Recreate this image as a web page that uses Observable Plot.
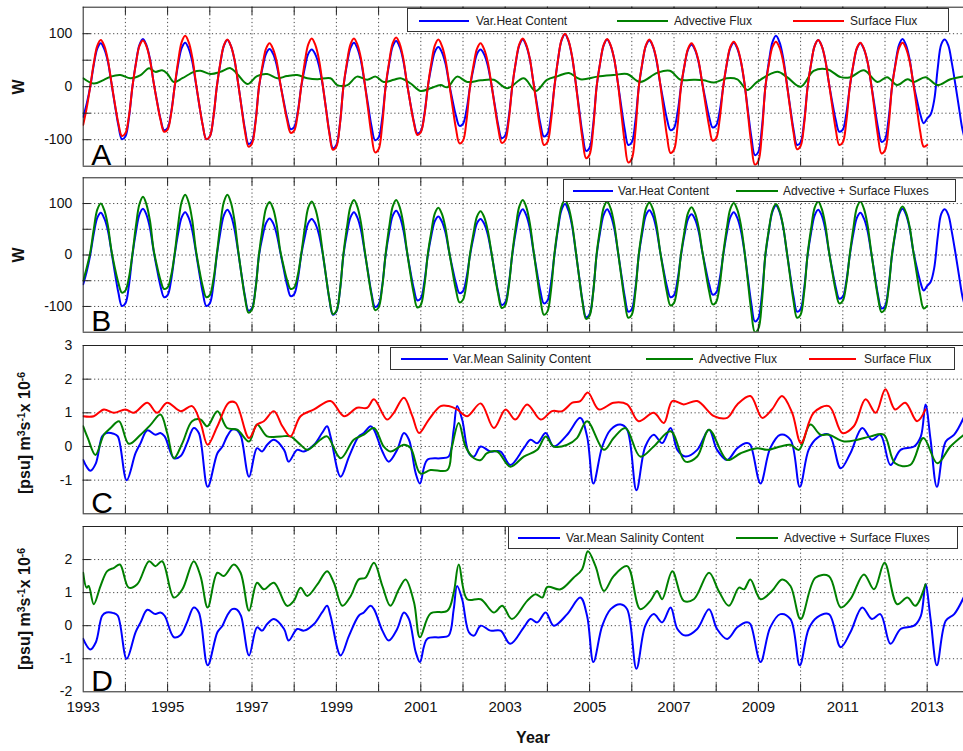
<!DOCTYPE html>
<html><head><meta charset="utf-8">
<script src="https://cdn.jsdelivr.net/npm/d3@7"></script>
<script src="https://cdn.jsdelivr.net/npm/@observablehq/plot@0.6"></script>
<style>
body{margin:0;background:#fff;overflow:hidden;font-family:"Liberation Sans",Arial,sans-serif;}
#root{position:relative;width:963px;height:751px;overflow:hidden;background:#fff;}
.panel{position:absolute;left:0;}
.legend{position:absolute;border:1px solid #333;background:#fff;box-sizing:border-box;font-size:12px;color:#222;}
.legend .sw{position:absolute;height:2px;}
.legend .lb{position:absolute;white-space:nowrap;line-height:1;transform:translateY(-50%);}
.ytitle{position:absolute;font-weight:bold;white-space:nowrap;line-height:1;color:#111;transform:translate(-50%,-50%) rotate(-90deg);}
.ytitle span{font-size:0.65em;vertical-align:0.55em;}
.xtitle{position:absolute;font-weight:bold;font-size:16px;color:#111;transform:translate(-50%,-50%);}
</style></head><body><div id="root"></div>
<script>
// ---------- DATA ----------
// Panel A/B: monthly values from Jan 1993 (W)
const heatContent = [
-57,-32,0,41,72,82,71,48,8,-34,-73,-99,
-94,-59,0,45,79,90,78,52,9,-28,-61,-82,
-78,-49,0,42,73,83,72,48,8,-34,-73,-99,
-94,-59,0,44,77,88,77,51,9,-37,-80,-108,
-103,-65,0,36,62,71,62,41,7,-27,-59,-80,
-76,-48,0,35,62,70,61,41,7,-39,-86,-116,
-110,-70,0,42,73,83,72,48,8,-34,-75,-101,
-96,-61,0,43,76,86,75,50,9,-30,-65,-88,
-84,-53,0,38,66,75,65,44,8,-25,-55,-74,
-70,-44,0,35,62,70,61,41,7,-33,-72,-97,
-92,-58,0,45,78,89,77,52,9,-32,-70,-94,
-89,-56,0,50,87,99,86,57,10,-41,-90,-121,
-115,-73,0,45,78,89,77,52,9,-37,-81,-110,
-105,-66,0,44,77,87,76,50,9,-28,-61,-82,
-78,-49,0,40,70,79,69,46,8,-26,-57,-77,
-73,-46,0,42,73,83,72,48,8,-44,-95,-129,
-123,-77,0,48,84,96,84,56,10,-37,-81,-110,
-105,-66,0,44,77,88,77,51,9,-29,-63,-85,
-81,-51,0,41,72,82,71,48,8,-35,-77,-104,
-99,-62,0,45,79,90,78,52,9,-23,-51,-69,
-60,-52,-25,35,80,89,78,45,5,-38,-80,-105];
const surfaceFluxA = [
-72,-40,0,44,77,88,77,51,9,-32,-69,-93,
-88,-56,0,44,77,87,76,50,9,-29,-63,-85,
-81,-51,0,48,84,96,84,56,10,-34,-73,-99,
-94,-59,0,45,78,89,77,52,9,-38,-84,-113,
-107,-68,0,41,72,82,71,48,8,-30,-64,-87,
-83,-52,0,46,80,91,79,53,9,-40,-88,-119,
-113,-71,0,46,80,91,79,53,9,-42,-92,-124,
-118,-74,0,47,82,93,81,54,9,-31,-67,-91,
-86,-55,0,45,78,89,77,52,9,-36,-79,-107,
-102,-64,0,41,72,82,71,48,8,-36,-78,-106,
-101,-64,0,46,80,91,79,53,9,-37,-81,-110,
-105,-66,0,50,88,100,87,58,10,-46,-100,-135,
-128,-81,0,45,79,90,78,52,9,-49,-106,-143,
-136,-86,0,45,78,89,77,52,9,-43,-93,-125,
-119,-75,0,41,72,82,71,48,8,-35,-75,-102,
-97,-61,0,43,75,85,74,49,9,-50,-109,-147,
-140,-88,0,43,75,85,74,49,9,-40,-87,-118,
-112,-71,0,44,77,88,77,51,9,-37,-81,-110,
-105,-66,0,42,73,83,72,48,8,-43,-93,-126,
-120,-76,0,42,73,83,72,48,8,-38,-84,-113,
-110];
const advSurfFluxB = [
-50,-25,5,50,88,100,87,58,10,-25,-54,-73,
-69,-44,2,57,99,113,98,66,11,-22,-49,-66,
-63,-40,2,59,103,117,102,68,12,-28,-61,-82,
-78,-49,2,59,103,117,102,68,12,-38,-83,-112,
-106,-67,2,52,91,103,90,60,10,-22,-49,-66,
-63,-40,2,52,92,104,90,60,10,-39,-85,-115,
-109,-69,2,54,94,107,93,62,11,-36,-79,-107,
-102,-64,2,54,94,107,93,62,11,-35,-75,-102,
-97,-61,2,46,81,92,80,53,9,-31,-68,-92,
-87,-55,2,43,75,85,74,49,9,-35,-76,-103,
-98,-62,2,54,94,107,93,62,11,-39,-86,-116,
-110,-70,2,54,94,107,93,62,11,-42,-92,-124,
-118,-74,2,52,92,104,90,60,10,-41,-90,-122,
-116,-73,2,51,90,102,89,59,10,-33,-73,-98,
-93,-59,2,47,82,93,81,54,9,-33,-71,-96,
-91,-58,2,51,89,101,88,59,10,-51,-111,-150,
-143,-90,2,50,87,99,86,57,10,-41,-90,-122,
-116,-73,2,52,92,104,90,60,10,-32,-70,-94,
-89,-56,2,52,92,104,90,60,10,-38,-82,-111,
-105,-67,2,47,83,94,82,55,9,-35,-77,-104,
-99];
// [year, W]
const advectiveFluxA = [[1993.0,16],[1993.25,6],[1993.49,13],[1993.65,19],[1993.88,22],[1994.12,16],[1994.36,22],[1994.56,35],[1994.71,28],[1994.87,31],[1994.99,25],[1995.15,9],[1995.35,16],[1995.62,28],[1995.78,30],[1996.02,24],[1996.25,28],[1996.49,35],[1996.65,24],[1996.89,5],[1997.12,20],[1997.36,24],[1997.6,16],[1997.83,20],[1998.07,22],[1998.31,16],[1998.55,14],[1998.86,16],[1999.02,3],[1999.26,3],[1999.49,19],[1999.73,13],[1999.93,19],[2000.12,9],[2000.36,13],[2000.52,16],[2000.76,6],[2000.99,-8],[2001.23,-3],[2001.47,3],[2001.63,-1],[2001.86,19],[2002.1,9],[2002.42,12],[2002.73,13],[2003.05,-3],[2003.44,16],[2003.72,-8],[2003.99,13],[2004.25,20],[2004.51,26],[2004.78,14],[2005.18,19],[2005.57,22],[2005.89,24],[2006.2,9],[2006.6,26],[2006.9,30],[2007.16,13],[2007.47,13],[2007.7,12],[2007.95,8],[2008.25,16],[2008.5,14],[2008.74,-6],[2008.97,9],[2009.45,28],[2009.68,18],[2010.0,0],[2010.31,30],[2010.63,33],[2010.95,18],[2011.18,18],[2011.5,31],[2011.82,9],[2012.05,18],[2012.29,3],[2012.53,14],[2012.69,9],[2012.96,18],[2013.24,3],[2013.55,14],[2013.9,20]];
// Panel C/D: [year, psu m3 s-1 x 1e-6]
const salinityContent = [[1993.0,-0.4],[1993.08,-0.6],[1993.17,-0.72],[1993.3,-0.5],[1993.45,0.3],[1993.55,0.4],[1993.72,0.38],[1993.82,0.3],[1994.03,-1.0],[1994.24,-0.2],[1994.36,0.1],[1994.52,0.48],[1994.71,0.35],[1994.83,0.4],[1994.93,0.3],[1995.15,-0.35],[1995.31,-0.28],[1995.46,0.1],[1995.62,0.55],[1995.74,0.4],[1995.95,-1.2],[1996.18,-0.2],[1996.3,0.0],[1996.41,0.3],[1996.53,0.5],[1996.65,0.48],[1996.74,0.3],[1996.93,-0.9],[1997.12,-0.05],[1997.24,-0.15],[1997.36,0.05],[1997.52,0.2],[1997.76,-0.1],[1997.87,-0.45],[1998.07,-0.1],[1998.23,-0.15],[1998.47,0.05],[1998.66,0.4],[1998.78,0.6],[1998.86,0.3],[1999.1,-0.9],[1999.3,-0.3],[1999.53,0.3],[1999.65,0.4],[1999.81,0.6],[1999.89,0.5],[2000.09,-0.15],[2000.24,-0.45],[2000.44,-0.1],[2000.6,0.4],[2000.72,0.2],[2000.88,-0.8],[2000.98,-1.1],[2001.15,-0.4],[2001.47,-0.35],[2001.66,-0.3],[2001.78,0.5],[2001.86,1.2],[2001.98,0.8],[2002.14,-0.2],[2002.26,-0.3],[2002.42,0.0],[2002.65,-0.15],[2002.89,-0.15],[2003.12,-0.55],[2003.44,-0.05],[2003.6,0.2],[2003.76,0.1],[2003.96,0.4],[2004.15,0.0],[2004.47,0.35],[2004.78,0.85],[2004.94,0.3],[2005.09,-1.1],[2005.3,0.0],[2005.5,0.5],[2005.73,0.65],[2005.89,0.5],[2006.11,-1.3],[2006.32,0.0],[2006.52,0.35],[2006.72,0.1],[2006.92,0.55],[2007.08,-0.1],[2007.27,-0.3],[2007.55,-0.1],[2007.83,0.5],[2008.02,-0.1],[2008.26,-0.4],[2008.5,-0.05],[2008.73,0.1],[2008.81,0.05],[2009.05,-1.1],[2009.28,-0.05],[2009.52,0.35],[2009.76,0.2],[2009.98,-1.2],[2010.19,-0.1],[2010.39,0.25],[2010.67,0.35],[2010.95,-0.65],[2011.18,-0.2],[2011.46,0.55],[2011.69,0.2],[2011.89,0.35],[2012.13,-0.55],[2012.37,-0.1],[2012.69,0.0],[2012.85,0.3],[2012.96,1.25],[2013.08,0.2],[2013.23,-1.2],[2013.44,0.15],[2013.64,0.35],[2013.9,0.95]];
const advectiveFluxC = [[1993.0,0.6],[1993.11,0.25],[1993.29,-0.25],[1993.49,0.35],[1993.65,0.55],[1993.85,0.75],[1994.08,0.08],[1994.36,0.35],[1994.6,0.65],[1994.83,0.95],[1994.99,0.4],[1995.15,-0.35],[1995.35,0.1],[1995.58,0.75],[1995.78,0.8],[1995.94,0.6],[1996.18,1.05],[1996.41,0.55],[1996.65,0.5],[1996.93,0.15],[1997.12,0.65],[1997.36,0.3],[1997.68,0.3],[1997.91,0.3],[1998.15,0.05],[1998.31,-0.1],[1998.62,0.2],[1998.78,0.3],[1999.1,-0.35],[1999.41,0.2],[1999.65,0.35],[1999.89,0.55],[2000.12,0.0],[2000.28,-0.15],[2000.6,0.05],[2000.76,-0.05],[2000.99,-0.8],[2001.23,-0.7],[2001.63,-0.7],[2001.74,0.0],[2001.9,0.7],[2002.06,0.0],[2002.26,-0.35],[2002.42,-0.4],[2002.57,-0.2],[2002.81,-0.15],[2003.12,-0.6],[2003.44,-0.3],[2003.76,-0.1],[2003.96,0.3],[2004.15,0.0],[2004.47,0.05],[2004.7,0.25],[2004.94,0.75],[2005.34,-0.1],[2005.57,0.25],[2005.85,0.55],[2006.2,-0.3],[2006.52,0.0],[2006.92,0.45],[2007.27,-0.45],[2007.55,-0.3],[2007.83,0.5],[2008.26,-0.4],[2008.58,-0.2],[2008.97,-0.05],[2009.21,-0.1],[2009.52,0.0],[2009.76,0.05],[2009.96,-0.1],[2010.23,0.65],[2010.47,0.35],[2010.67,0.35],[2011.03,0.15],[2011.35,0.2],[2011.66,0.3],[2011.97,0.35],[2012.24,-0.5],[2012.6,-0.55],[2012.91,0.25],[2013.24,-0.5],[2013.55,0.0],[2013.9,0.38]];
const surfaceFluxC = [[1993.0,0.9],[1993.25,0.9],[1993.49,1.1],[1993.73,1.0],[1994.0,1.1],[1994.2,1.0],[1994.52,1.3],[1994.75,1.0],[1994.99,1.3],[1995.31,1.05],[1995.58,1.2],[1995.78,0.7],[1995.95,0.05],[1996.18,0.6],[1996.45,1.3],[1996.61,1.3],[1996.93,0.25],[1997.12,0.65],[1997.28,0.75],[1997.52,1.05],[1997.72,0.6],[1997.91,0.3],[1998.15,0.9],[1998.47,1.1],[1998.86,1.35],[1999.18,0.9],[1999.49,1.15],[1999.73,1.15],[1999.89,1.4],[2000.2,0.8],[2000.36,1.0],[2000.6,1.45],[2000.8,0.9],[2000.96,0.4],[2001.19,0.8],[2001.47,1.2],[2001.66,1.2],[2001.86,1.1],[2002.1,0.9],[2002.42,1.28],[2002.73,0.55],[2003.01,1.1],[2003.24,0.8],[2003.52,1.25],[2003.84,0.8],[2004.11,1.05],[2004.35,1.05],[2004.59,1.3],[2004.78,1.35],[2004.96,1.6],[2005.22,1.1],[2005.57,1.3],[2005.89,1.25],[2006.16,0.75],[2006.52,1.0],[2006.76,0.7],[2006.96,1.35],[2007.23,1.25],[2007.55,1.35],[2007.95,0.9],[2008.26,0.85],[2008.5,1.25],[2008.81,1.5],[2009.09,0.85],[2009.32,1.1],[2009.56,1.5],[2009.8,1.0],[2010.01,0.1],[2010.31,1.0],[2010.67,1.2],[2010.99,0.4],[2011.26,0.6],[2011.54,1.4],[2011.78,1.0],[2012.01,1.7],[2012.24,1.1],[2012.48,1.3],[2012.76,0.75],[2012.96,1.1]];
const advSurfFluxD = [[1993.0,1.6],[1993.08,1.15],[1993.13,1.2],[1993.25,0.65],[1993.41,1.2],[1993.57,1.65],[1993.73,1.75],[1993.87,1.85],[1994.08,1.15],[1994.28,1.25],[1994.56,1.95],[1994.71,1.8],[1994.87,1.95],[1995.15,0.85],[1995.35,1.1],[1995.62,1.95],[1995.78,1.5],[1995.95,0.55],[1996.18,1.6],[1996.33,1.5],[1996.57,1.85],[1996.73,1.6],[1996.93,0.45],[1997.12,1.3],[1997.28,1.1],[1997.52,1.3],[1997.83,0.6],[1997.99,0.75],[1998.15,1.15],[1998.31,0.9],[1998.55,1.25],[1998.78,1.65],[1998.94,1.3],[1999.14,0.6],[1999.34,0.9],[1999.53,1.4],[1999.69,1.45],[1999.89,1.9],[2000.09,1.2],[2000.28,0.6],[2000.48,1.1],[2000.64,1.4],[2000.84,0.7],[2000.98,-0.35],[2001.23,0.37],[2001.63,0.45],[2001.78,1.0],[2001.9,1.85],[2002.1,0.8],[2002.42,0.8],[2002.73,0.4],[2002.93,0.6],[2003.16,0.2],[2003.52,0.75],[2003.72,0.95],[2003.88,0.85],[2004.0,1.17],[2004.31,1.1],[2004.62,1.45],[2004.82,1.7],[2004.96,2.25],[2005.14,1.8],[2005.34,1.05],[2005.57,1.5],[2005.89,1.8],[2006.2,0.5],[2006.44,0.75],[2006.6,1.05],[2006.72,0.8],[2006.96,1.65],[2007.23,0.75],[2007.47,0.8],[2007.83,1.6],[2008.06,1.05],[2008.3,0.6],[2008.54,1.15],[2008.66,1.1],[2008.81,1.4],[2009.05,0.8],[2009.32,1.05],[2009.56,1.4],[2009.76,1.2],[2010.0,0.2],[2010.35,1.45],[2010.67,1.5],[2010.95,0.55],[2011.18,0.8],[2011.5,1.55],[2011.74,1.1],[2011.99,1.9],[2012.29,0.65],[2012.53,0.85],[2012.72,0.6],[2012.96,1.25]];
const yearLabels = [1993,1995,1997,1999,2001,2003,2005,2007,2009,2011,2013];
const gridYears = [1994,1995,1996,1997,1998,1999,2000,2001,2002,2003,2004,2005,2006,2007,2008,2009,2010,2011,2012,2013];
const heatTicks = [-100,0,100], heatGrid = [-100,-50,0,50,100];
const saltTicksC = [-1,0,1,2,3], saltTicksD = [-2,-1,0,1,2], saltGrid = [-1,0,1,2];
const legendA = ["Var.Heat Content","Advective Flux","Surface Flux"];
const legendB = ["Var.Heat Content","Advective + Surface Fluxes"];
const legendC = ["Var.Mean Salinity Content","Advective Flux","Surface Flux"];
const legendD = ["Var.Mean Salinity Content","Advective + Surface Fluxes"];

// ---------- DRAW ----------
const BLUE="#0000ff", GREEN="#008000", RED="#ff0000", AX="#222";
const FONT = "'Liberation Sans', Arial, sans-serif";
const monthly = a => a.map((v,i)=>({t:1993+i/12, v}));
const pairs = a => a.map(([t,v])=>({t, v}));
const root = document.getElementById("root");
const W = 963, ML = 82.7, XR = [82.7, 82.7 + 21*42.2];

function panel({top, height, mt, mb, yDomain, yTicks, yGrid, series, letter, xLabels}) {
  const h = height - mt - mb, fw = W - ML;
  const grid = {stroke:"#333", strokeDasharray:"1.2,2.6", strokeWidth:0.9};
  const marks = [
    Plot.ruleX(gridYears, grid),
    Plot.ruleY(yGrid, grid),
    ...series.map(s => Plot.line(s.data, {x:"t", y:"v", stroke:s.color, strokeWidth:2, curve:"catmull-rom", clip:true})),
    Plot.ruleX(gridYears, {stroke:AX, insetTop:h-8}),
    Plot.ruleX(gridYears, {stroke:AX, insetBottom:h-8}),
    Plot.ruleY(yGrid, {stroke:AX, insetRight:fw-8}),
    Plot.ruleX([1993], {stroke:AX}),
    Plot.ruleY(yDomain, {stroke:AX}),
    Plot.axisY({ticks:yTicks, tickSize:0, tickPadding:11, fontSize:14, tickFormat:d=>String(d), label:null}),
    Plot.text([letter], {frameAnchor:"bottom-left", text:d=>d, dx:8, dy:-1, fontSize:30, textAnchor:"start", lineAnchor:"bottom", fill:"#000"})
  ];
  if (xLabels) marks.push(Plot.axisX({ticks:xLabels, tickSize:0, tickPadding:10, fontSize:15, tickFormat:d=>String(d), label:null}));
  const svg = Plot.plot({
    width:W, height, marginLeft:ML, marginRight:0, marginTop:mt, marginBottom:mb,
    style:{fontFamily:FONT, color:"#111", background:"transparent"},
    x:{domain:[1993,2014], range:XR, axis: xLabels ? undefined : null},
    y:{domain:yDomain},
    marks
  });
  const div = document.createElement("div");
  div.className = "panel"; div.style.top = top + "px";
  div.appendChild(svg); root.appendChild(div);
}

panel({top:0, height:172, mt:6.7, mb:6.3, yDomain:[-150,150], yTicks:heatTicks, yGrid:heatGrid, letter:"A",
  series:[{data:monthly(heatContent), color:BLUE},{data:pairs(advectiveFluxA), color:GREEN},{data:monthly(surfaceFluxA), color:RED}]});
panel({top:172, height:166, mt:5.3, mb:6.3, yDomain:[-150,150], yTicks:heatTicks, yGrid:heatGrid, letter:"B",
  series:[{data:monthly(heatContent), color:BLUE},{data:monthly(advSurfFluxB), color:GREEN}]});
panel({top:338, height:181, mt:7, mb:5.7, yDomain:[-2,3], yTicks:saltTicksC, yGrid:saltGrid, letter:"C",
  series:[{data:pairs(salinityContent), color:BLUE},{data:pairs(advectiveFluxC), color:GREEN},{data:pairs(surfaceFluxC), color:RED}]});
panel({top:519, height:232, mt:7, mb:59.7, yDomain:[-2,3], yTicks:saltTicksD, yGrid:saltGrid, letter:"D", xLabels:yearLabels,
  series:[{data:pairs(salinityContent), color:BLUE},{data:pairs(advSurfFluxD), color:GREEN}]});

// legends
function legend(box, cy, items) {
  const d = document.createElement("div");
  d.className = "legend";
  Object.assign(d.style, {left:box[0]+"px", top:box[1]+"px", width:(box[2]-box[0])+"px", height:(box[3]-box[1])+"px"});
  for (const it of items) {
    const sw = document.createElement("div");
    sw.className = "sw";
    Object.assign(sw.style, {left:(it.x1-box[0])+"px", width:(it.x2-it.x1)+"px", top:(cy-box[1]-2)+"px", background:it.color});
    const lb = document.createElement("div");
    lb.className = "lb"; lb.textContent = it.label;
    Object.assign(lb.style, {left:(it.tx-box[0])+"px", top:(cy-box[1]-1)+"px"});
    d.appendChild(sw); d.appendChild(lb);
  }
  root.appendChild(d);
}
legend([407,8,949,32], 20.5, [
  {color:BLUE, x1:418, x2:468, tx:475, label:legendA[0]},
  {color:GREEN, x1:616, x2:667, tx:673, label:legendA[1]},
  {color:RED, x1:792, x2:843, tx:849, label:legendA[2]}]);
legend([563,179,956,202], 190.5, [
  {color:BLUE, x1:572, x2:612, tx:617, label:legendB[0]},
  {color:GREEN, x1:735, x2:777, tx:782, label:legendB[1]}]);
legend([390,347,955,370], 358.5, [
  {color:BLUE, x1:400, x2:447, tx:452, label:legendC[0]},
  {color:GREEN, x1:645, x2:692, tx:698, label:legendC[1]},
  {color:RED, x1:808, x2:855, tx:863, label:legendC[2]}]);
legend([508,526,958,549], 537.5, [
  {color:BLUE, x1:517, x2:559, tx:565, label:legendD[0]},
  {color:GREEN, x1:735, x2:777, tx:783, label:legendD[1]}]);

// axis titles
function ytitle(x, y, html, size) {
  const d = document.createElement("div");
  d.className = "ytitle"; d.innerHTML = html;
  Object.assign(d.style, {left:x+"px", top:y+"px", fontSize:size+"px"});
  root.appendChild(d);
}
ytitle(19, 86.5, "W", 16);
ytitle(19, 254.5, "W", 16);
const saltTitle = "[psu] m<span>3</span>s<span>-1</span>x 10<span>-6</span>";
ytitle(25, 433, saltTitle, 16);
ytitle(25, 609, saltTitle, 16);
const xt = document.createElement("div");
xt.className = "xtitle"; xt.textContent = "Year";
Object.assign(xt.style, {left:"533px", top:"738px"});
root.appendChild(xt);
</script></body></html>
